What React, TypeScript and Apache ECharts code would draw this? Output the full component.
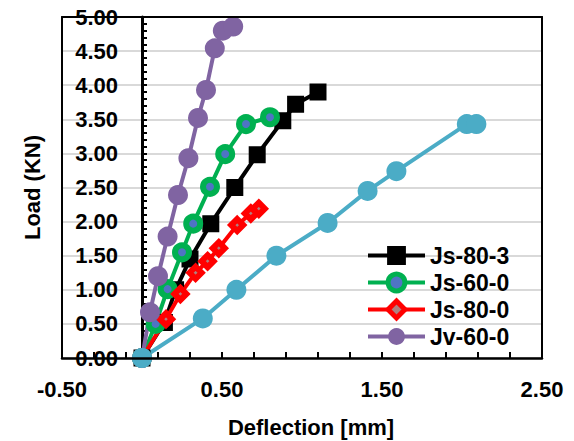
import React, { useEffect, useRef } from "react";
import * as echarts from "echarts";

// Deflection [mm] / Load (KN) per specimen
const js803X = [0, 0.14, 0.21, 0.3, 0.43, 0.58, 0.72, 0.88, 0.96, 1.1];
const js803Y = [0, 0.52, 1.0, 1.45, 1.97, 2.5, 2.98, 3.48, 3.72, 3.9];

const js600X = [0, 0.085, 0.16, 0.25, 0.32, 0.425, 0.52, 0.65, 0.8];
const js600Y = [0, 0.5, 1.01, 1.55, 1.97, 2.51, 2.99, 3.43, 3.53];

const js800X = [0, 0.15, 0.24, 0.335, 0.41, 0.48, 0.595, 0.68, 0.73];
const js800Y = [0, 0.57, 0.94, 1.25, 1.42, 1.61, 1.95, 2.12, 2.19];

const jv600X = [0, 0.05, 0.1, 0.16, 0.225, 0.29, 0.35, 0.4, 0.455, 0.505, 0.57];
const jv600Y = [0, 0.67, 1.2, 1.78, 2.39, 2.93, 3.52, 3.93, 4.54, 4.8, 4.86];

const extraX = [0, 0.38, 0.59, 0.84, 1.16, 1.41, 1.59, 2.03, 2.09];
const extraY = [0, 0.58, 1.0, 1.5, 1.98, 2.45, 2.74, 3.43, 3.43];

const legendNames = ["Js-80-3", "Js-60-0", "Js-80-0", "Jv-60-0"];

const FONT = "'Liberation Sans', Arial, sans-serif";

const pairs = (xs: number[], ys: number[]) => xs.map((x, i) => [x, ys[i]]);

export default function App() {
  const ref = useRef<HTMLDivElement>(null);
  useEffect(() => {
    if (!ref.current) return;
    const chart = echarts.init(ref.current, undefined, { renderer: "svg" });
    const lbl = { fontFamily: FONT, fontWeight: "bold" as const, fontSize: 22, color: "#000" };
    const frameAxis = {
      type: "value",
      axisLine: { show: true, onZero: false, lineStyle: { color: "#000", width: 2 } },
      axisTick: { show: false },
      axisLabel: { show: false },
      splitLine: { show: false },
    };
    const legendStyles: Record<string, any> = {
      "Js-60-0": { borderWidth: 5, borderColor: "#00b050", color: "#4f74c4" },
      "Js-80-0": { borderWidth: 5, borderColor: "#ff0000", color: "#b08080" },
    };
    chart.setOption({
      animation: false,
      backgroundColor: "#fff",
      grid: {
        left: 62,
        right: 32,
        top: 17,
        bottom: 83,
        outerBoundsMode: "none",
        containLabel: false,
      },
      xAxis: [
        {
          type: "value",
          min: -0.5,
          max: 2.5,
          interval: 1,
          name: "Deflection [mm]",
          nameLocation: "middle",
          nameGap: 58,
          nameTextStyle: { ...lbl, padding: [0, 0, 0, 18] },
          axisLine: { show: true, lineStyle: { color: "#000", width: 2.5 } },
          axisTick: { show: true, inside: true, length: 6, lineStyle: { color: "#000", width: 2 } },
          minorTick: { show: true, splitNumber: 5, length: 6, lineStyle: { color: "#000", width: 2 } },
          axisLabel: { ...lbl, margin: 20, formatter: (v: number) => v.toFixed(2) },
          splitLine: { show: false },
          minorSplitLine: { show: false },
          z: 5,
        },
        { ...frameAxis, position: "top", min: -0.5, max: 2.5, z: 5 },
      ],
      yAxis: [
        {
          type: "value",
          min: 0,
          max: 5,
          interval: 0.5,
          name: "Load (KN)",
          nameLocation: "middle",
          nameGap: 19,
          nameTextStyle: lbl,
          axisLine: { show: true, onZero: true, lineStyle: { color: "#000", width: 3 } },
          axisTick: { show: true, inside: true, length: 5, lineStyle: { color: "#000", width: 2 } },
          minorTick: { show: true, splitNumber: 5, length: 5, lineStyle: { color: "#000", width: 2 } },
          axisLabel: { ...lbl, margin: -56, formatter: (v: number) => v.toFixed(2) },
          splitLine: { show: true, lineStyle: { color: "#d9d9d9", width: 2 } },
        },
        { ...frameAxis, position: "right", min: 0, max: 5, z: 5 },
        { ...frameAxis, position: "left", min: 0, max: 5, z: 5 },
      ],
      legend: {
        data: legendNames.map((name) =>
          legendStyles[name] ? { name, itemStyle: legendStyles[name] } : { name }
        ),
        orient: "vertical",
        left: 361,
        top: 239,
        itemWidth: 57,
        itemHeight: 21,
        itemGap: 4,
        lineStyle: { width: 4 },
        textStyle: { ...lbl, fontSize: 23 },
      },
      series: [
        {
          name: "Js-80-3",
          type: "line",
          data: pairs(js803X, js803Y),
          symbol: "rect",
          symbolSize: 15,
          lineStyle: { color: "#000", width: 4 },
          itemStyle: { color: "#000", borderColor: "#000", borderWidth: 2 },
          z: 3,
        },
        {
          name: "Js-60-0",
          type: "line",
          data: pairs(js600X, js600Y),
          symbol: "circle",
          symbolSize: 14,
          lineStyle: { color: "#00b050", width: 4 },
          itemStyle: { color: "#4f74c4", borderColor: "#00b050", borderWidth: 6 },
          z: 3,
        },
        {
          name: "Js-80-0",
          type: "line",
          data: pairs(js800X, js800Y),
          symbol: "diamond",
          symbolSize: 12,
          lineStyle: { color: "#ff0000", width: 4 },
          itemStyle: { color: "#b08080", borderColor: "#ff0000", borderWidth: 6 },
          z: 3,
        },
        {
          name: "Jv-60-0",
          type: "line",
          data: pairs(jv600X, jv600Y),
          symbol: "circle",
          symbolSize: 20,
          lineStyle: { color: "#8064a2", width: 4 },
          itemStyle: { color: "#8064a2" },
          z: 3,
        },
        {
          name: "Series5",
          type: "line",
          data: pairs(extraX, extraY),
          symbol: "circle",
          symbolSize: 20,
          lineStyle: { color: "#4bacc6", width: 4 },
          itemStyle: { color: "#4bacc6" },
          z: 3,
        },
      ],
    });
    return () => chart.dispose();
  }, []);
  return (
    <div
      ref={ref}
      style={{ position: "fixed", left: 0, top: 0, width: 574, height: 441, background: "#fff" }}
    />
  );
}
